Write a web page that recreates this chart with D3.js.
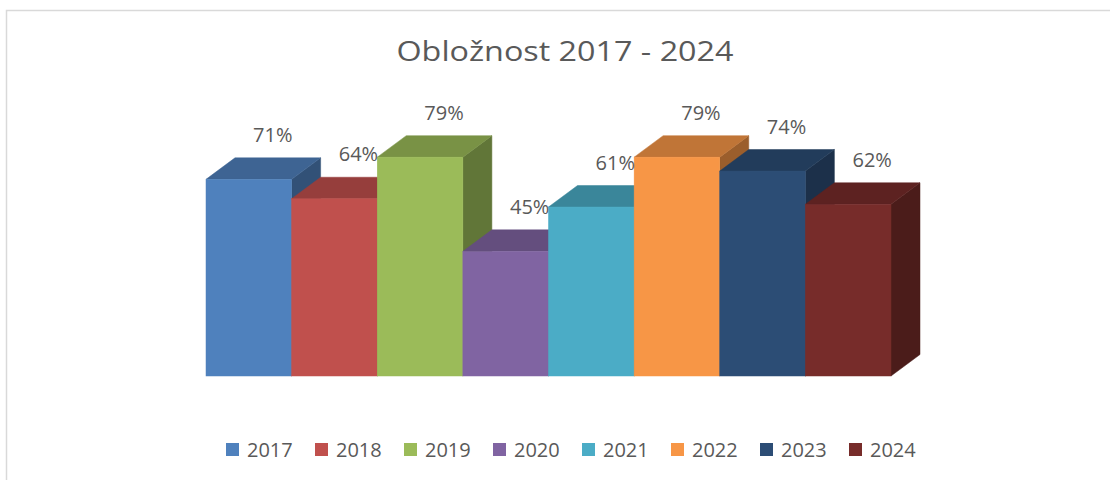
<!DOCTYPE html>
<html>
<head>
<meta charset="utf-8">
<script src="https://cdn.jsdelivr.net/npm/d3@7"></script>
<style>
  html, body { margin: 0; padding: 0; background: #fff; }
  svg { display: block; }
  text { font-family: "Open Sans", "Noto Sans", sans-serif; fill: #595959; }
</style>
</head>
<body>
<svg id="chart" width="1110" height="480"></svg>
<script>
const title = "Obložnost 2017 - 2024";
const categories = ["2017", "2018", "2019", "2020", "2021", "2022", "2023", "2024"];
const values = [71, 64, 79, 45, 61, 79, 74, 62];
const colors = ["#4F81BD", "#C0504D", "#9BBB59", "#8064A2", "#4BACC6", "#F79646", "#2C4D75", "#772C2A"];

const svg = d3.select("#chart");
const W = 1110, H = 480;

// chart border (extends beyond the visible area on right/bottom)
svg.append("rect")
  .attr("x", 6.5).attr("y", 10.5)
  .attr("width", W + 20).attr("height", H + 20)
  .attr("fill", "#fff")
  .attr("stroke", "#d9d9d9").attr("stroke-width", 1.5);

// title
const t = svg.append("text")
  .attr("x", 565).attr("y", 61)
  .attr("text-anchor", "middle")
  .attr("font-size", 27)
  .text(title);
const tw = t.node().getComputedTextLength();
if (Math.abs(tw - 337) > 6) {
  t.attr("textLength", 337).attr("lengthAdjust", "spacingAndGlyphs");
}

const x = d3.scaleBand().domain(categories).range([206, 891]).padding(0);
const y = d3.scaleLinear().domain([0, 100]).range([376, 99]);
const depth = { dx: 29, dy: -21.5 };

const data = categories.map((c, i) => ({ cat: c, value: values[i], color: colors[i] }));

const g = svg.append("g");
const bars = g.selectAll("g.bar").data(data).join("g").attr("class", "bar");

bars.each(function(d) {
  const sel = d3.select(this);
  const x0 = x(d.cat), x1 = x0 + x.bandwidth();
  const yt = y(d.value), yb = y(0);
  const c = d3.color(d.color);
  const top = c.darker(0.7), side = c.darker(1.3);
  const { dx, dy } = depth;
  sel.append("path")
    .attr("d", `M${x1},${yb} L${x1 + dx},${yb + dy} L${x1 + dx},${yt + dy} L${x1},${yt} Z`)
    .attr("fill", side).attr("stroke", side).attr("stroke-width", 0.5);
  sel.append("path")
    .attr("d", `M${x0},${yt} L${x0 + dx},${yt + dy} L${x1 + dx},${yt + dy} L${x1},${yt} Z`)
    .attr("fill", top).attr("stroke", top).attr("stroke-width", 0.5);
  sel.append("rect")
    .attr("x", x0).attr("y", yt)
    .attr("width", x.bandwidth()).attr("height", yb - yt)
    .attr("fill", c).attr("stroke", c).attr("stroke-width", 0.5);
});

// data labels
g.selectAll("text.lbl").data(data).join("text")
  .attr("class", "lbl")
  .attr("x", d => x(d.cat) + x.bandwidth() / 2 + depth.dx - 5)
  .attr("y", d => y(d.value) + depth.dy - 16)
  .attr("text-anchor", "middle")
  .attr("font-size", 20)
  .text(d => d.value + "%");

// legend
const legStart = 226, legStep = 89;
const leg = svg.append("g").selectAll("g").data(data).join("g")
  .attr("transform", (d, i) => `translate(${legStart + i * legStep},443)`);
leg.append("rect").attr("width", 13).attr("height", 13).attr("fill", d => d.color);
leg.append("text").attr("x", 21).attr("y", 13.5).attr("font-size", 20).text(d => d.cat);
</script>
</body>
</html>
